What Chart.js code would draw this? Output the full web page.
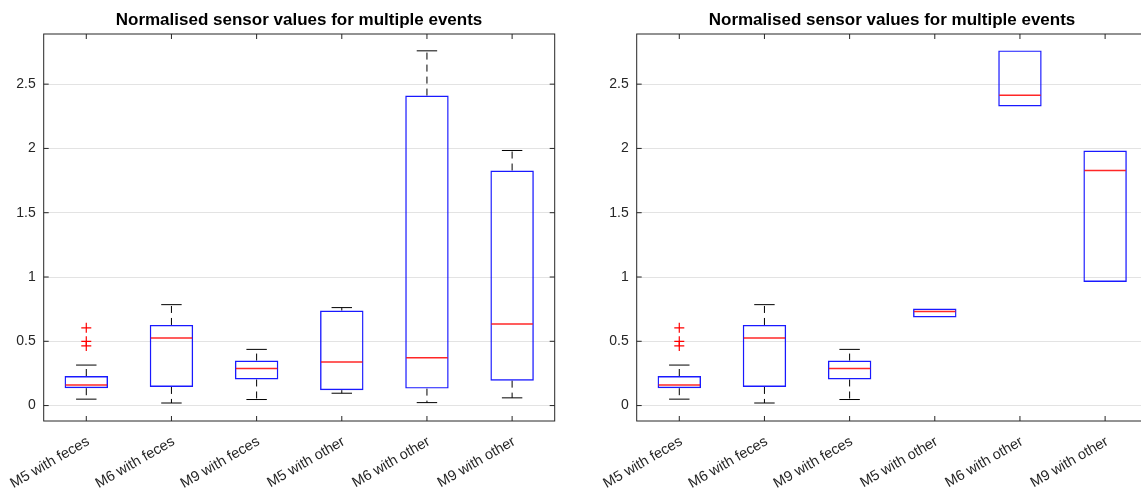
<!DOCTYPE html>
<html>
<head>
<meta charset="utf-8">
<script src="https://cdn.jsdelivr.net/npm/chart.js@4"></script>
<style>
  html, body { margin: 0; padding: 0; background: #fff; overflow: hidden; width: 1141px; height: 493px; }
  canvas { position: absolute; top: 0; }
  #left { left: 0; }
  #right { left: 593px; }
</style>
</head>
<body>
<canvas id="left" width="598" height="493"></canvas>
<canvas id="right" width="598" height="493"></canvas>
<script>
const labels = ['M5 with feces', 'M6 with feces', 'M9 with feces', 'M5 with other', 'M6 with other', 'M9 with other'];
const chartTitle = 'Normalised sensor values for multiple events';

// left panel
const leftLow = [0.05, 0.02, 0.047, 0.096, 0.023, 0.06];
const leftQ1 = [0.135, 0.145, 0.203, 0.12, 0.132, 0.194];
const leftMedian = [0.16, 0.525, 0.289, 0.338, 0.371, 0.634];
const leftQ3 = [0.23, 0.627, 0.35, 0.739, 2.411, 1.828];
const leftHigh = [0.315, 0.785, 0.437, 0.762, 2.759, 1.984];
const leftOutliers = [[0.605, 0.5, 0.464], [], [], [], [], []];

// right panel (last three boxes have whiskers on the box edges)
const rightLow = [0.05, 0.02, 0.047, 0.685, 2.326, 0.962];
const rightQ1 = [0.135, 0.145, 0.203, 0.685, 2.326, 0.962];
const rightMedian = [0.16, 0.525, 0.289, 0.732, 2.414, 1.828];
const rightQ3 = [0.23, 0.627, 0.35, 0.755, 2.762, 1.983];
const rightHigh = [0.315, 0.785, 0.437, 0.755, 2.762, 1.983];
const rightOutliers = [[0.605, 0.5, 0.464], [], [], [], [], []];

const yTicks = [0, 0.5, 1, 1.5, 2, 2.5];

const font = 'Liberation Sans, Arial, sans-serif';
const axisColor = '#262626';
const boxWidth = 0.51;
const capWidth = 0.24;

function line(ctx, x1, y1, x2, y2) {
    ctx.beginPath();
    ctx.moveTo(x1, y1);
    ctx.lineTo(x2, y2);
    ctx.stroke();
}

function boxExtras(stats) {
    return {
        id: 'boxExtras',
        beforeDatasetsDraw(chart) {
            const ctx = chart.ctx;
            const x = chart.scales.x, y = chart.scales.y;
            const unit = x.getPixelForValue(1) - x.getPixelForValue(0);
            const hw = unit * capWidth / 2;
            ctx.save();
            ctx.strokeStyle = '#000';
            ctx.lineWidth = 1;
            stats.q1.forEach((q1, i) => {
                const cx = x.getPixelForValue(i);
                if (stats.high[i] > stats.q3[i]) {
                    ctx.setLineDash([7, 5]);
                    line(ctx, cx, y.getPixelForValue(stats.q3[i]), cx, y.getPixelForValue(stats.high[i]));
                    ctx.setLineDash([]);
                    line(ctx, cx - hw, y.getPixelForValue(stats.high[i]), cx + hw, y.getPixelForValue(stats.high[i]));
                }
                if (stats.low[i] < q1) {
                    ctx.setLineDash([7, 5]);
                    line(ctx, cx, y.getPixelForValue(q1), cx, y.getPixelForValue(stats.low[i]));
                    ctx.setLineDash([]);
                    line(ctx, cx - hw, y.getPixelForValue(stats.low[i]), cx + hw, y.getPixelForValue(stats.low[i]));
                }
            });
            ctx.restore();
        },
        afterDatasetsDraw(chart) {
            const ctx = chart.ctx;
            const x = chart.scales.x, y = chart.scales.y;
            const unit = x.getPixelForValue(1) - x.getPixelForValue(0);
            ctx.save();
            ctx.strokeStyle = 'rgba(255,0,0,0.85)';
            ctx.lineWidth = 1.5;
            stats.median.forEach((m, i) => {
                const cx = x.getPixelForValue(i);
                const hw = unit * boxWidth / 2 - 1;
                line(ctx, cx - hw, y.getPixelForValue(m), cx + hw, y.getPixelForValue(m));
            });
            ctx.restore();
        },
        afterDraw(chart) {
            // MATLAB style box with inward ticks
            const ctx = chart.ctx;
            const a = chart.chartArea;
            const x = chart.scales.x, y = chart.scales.y;
            ctx.save();
            ctx.strokeStyle = axisColor;
            ctx.lineWidth = 1;
            ctx.strokeRect(a.left, a.top, a.right - a.left, a.bottom - a.top);
            x.ticks.forEach((t, i) => {
                const px = x.getPixelForTick(i);
                line(ctx, px, a.bottom, px, a.bottom - 5);
                line(ctx, px, a.top, px, a.top + 5);
            });
            y.ticks.forEach((t, i) => {
                const py = y.getPixelForTick(i);
                line(ctx, a.left, py, a.left + 5, py);
                line(ctx, a.right, py, a.right - 5, py);
            });
            ctx.restore();
        }
    };
}

function makeChart(id, stats) {
    const outlierPoints = [];
    stats.outliers.forEach((list, i) => {
        list.forEach(v => outlierPoints.push({ x: labels[i], y: v }));
    });

    return new Chart(document.getElementById(id), {
        type: 'bar',
        data: {
            labels: labels,
            datasets: [{
                type: 'bar',
                data: stats.q1.map((q1, i) => [q1, stats.q3[i]]),
                backgroundColor: 'rgba(0,0,0,0)',
                borderColor: 'rgba(0,0,255,0.9)',
                borderWidth: 1.4,
                borderSkipped: false,
                barPercentage: boxWidth,
                categoryPercentage: 1
            }, {
                type: 'line',
                data: outlierPoints,
                showLine: false,
                pointStyle: 'cross',
                pointRadius: 5,
                borderColor: '#ff0000',
                borderWidth: 1.2
            }]
        },
        options: {
            responsive: false,
            animation: false,
            layout: { padding: 0 },
            plugins: {
                legend: { display: false },
                tooltip: { enabled: false },
                title: {
                    display: true,
                    text: chartTitle,
                    color: '#000',
                    font: { family: font, size: 17, weight: 'bold', lineHeight: 1.2 },
                    padding: { top: 10, bottom: 3.6 }
                }
            },
            scales: {
                x: {
                    type: 'category',
                    offset: true,
                    grid: { display: false, drawTicks: false },
                    border: { display: false },
                    ticks: {
                        color: axisColor,
                        font: { family: font, size: 14.5 },
                        minRotation: 30,
                        maxRotation: 30,
                        autoSkip: false,
                        padding: 12,
                        labelOffset: 2
                    },
                    afterFit(scale) {
                        scale.height = 72;
                        scale.paddingLeft = 0;
                        scale.paddingRight = 0;
                    }
                },
                y: {
                    min: -0.12,
                    max: 2.89,
                    grid: { color: '#e3e3e3', drawTicks: false },
                    border: { display: false },
                    afterBuildTicks(scale) { scale.ticks = yTicks.map(v => ({ value: v })); },
                    ticks: {
                        color: axisColor,
                        font: { family: font, size: 14 },
                        padding: 8,
                        callback: v => String(v)
                    },
                    afterFit(scale) { scale.width = 43.7; }
                },
                // empty right margin so the title centres over the plot
                margin: {
                    position: 'right',
                    grid: { display: false, drawTicks: false },
                    border: { display: false },
                    ticks: { display: false },
                    afterFit(scale) { scale.width = 43.3; }
                }
            }
        },
        plugins: [boxExtras(stats)]
    });
}

makeChart('left', {
    low: leftLow, q1: leftQ1, median: leftMedian, q3: leftQ3, high: leftHigh, outliers: leftOutliers
});
makeChart('right', {
    low: rightLow, q1: rightQ1, median: rightMedian, q3: rightQ3, high: rightHigh, outliers: rightOutliers
});
</script>
</body>
</html>
